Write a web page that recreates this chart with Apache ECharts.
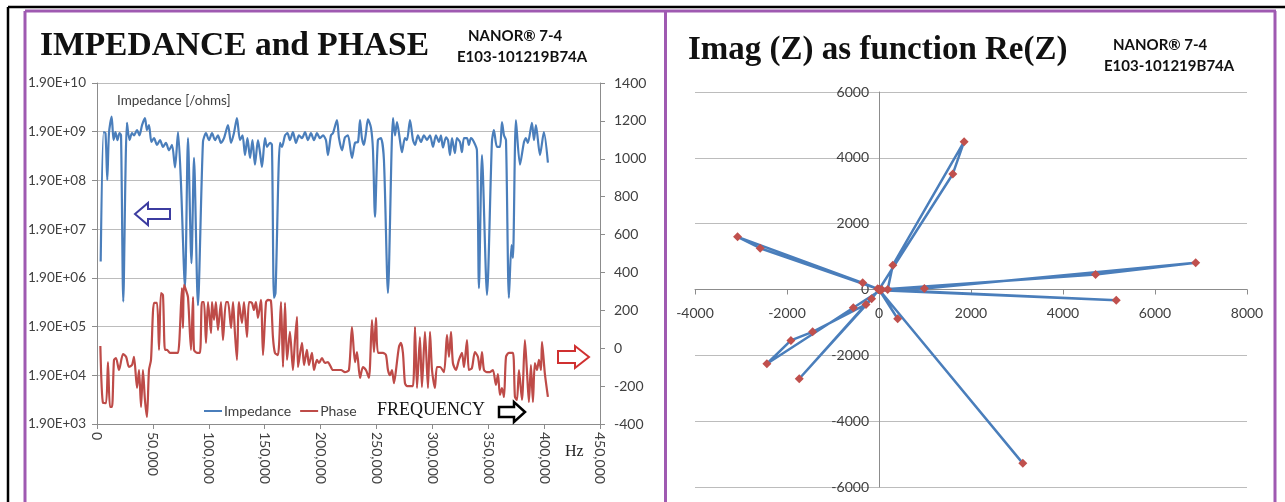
<!DOCTYPE html>
<html>
<head>
<meta charset="utf-8">
<script src="https://cdn.jsdelivr.net/npm/echarts@6/dist/echarts.min.js"></script>
<style>
html,body{margin:0;padding:0;background:#fff;}
#c{width:1285px;height:502px;}
</style>
</head>
<body>
<div id="c"></div>
<script>
// ---------- DATA ----------
const impFreq = [
3300,5900,7600,9200,10700,13100,14800,16500,18300,20100,
21500,23500,26800,29100,31300,33100,35800,38000,40300,42900,
44700,46500,48700,51000,53700,56400,59000,61700,64400,67100,
69800,72500,75100,78700,81400,84500,86800,90300,94800,97500,
100200,102900,105600,108200,110900,113600,117200,119900,122500,125200,
127900,130200,132400,134600,136900,139100,141300,144000,145800,147600,
150300,152100,154800,156500,158300,159700,163700,165500,168200,170400,
172600,175300,178000,180700,183400,186100,188700,191400,194100,196800,
199500,202200,204800,206600,209300,211100,214700,216500,219200,221800,
224500,228100,230800,233500,235300,237000,238800,240600,242400,245100,
246900,248700,251300,254000,256700,260300,264800,266600,268400,271000,
272800,275500,277300,280000,282700,284500,287100,289800,292500,295200,
297900,300600,303200,305900,307700,309500,312200,314000,315800,317600,
320200,322000,324700,326500,328300,331000,332700,334500,337200,339900,
341700,344400,348900,353300,355100,357800,360500,362300,364100,365900,
368500,370800,372100,374800,378400,382000,383700,385500,389100,390900,
392700,396300,399800,403400];
const impedance = [
4.1e6,1.86e9,1.77e9,1.94e8,1.77e9,3.9e9,1.28e9,1.86e9,1.28e9,1.77e9,
1.6e9,6.2e5,2.9e9,1.28e9,1.77e9,1.6e9,2.05e9,1.6e9,2.6e9,3.6e9,
2.05e9,2.6e9,1.17e9,1.4e9,1.02e9,1.28e9,9.3e8,1.12e9,7.9e8,1.02e9,
3.5e8,1.86e9,1.7e8,1.2e6,1.4e9,3.8e6,5.5e8,5.2e5,1.17e9,1.77e9,
1.28e9,1.77e9,1.28e9,1.6e9,1.12e9,1.4e9,2.6e9,1.12e9,1.77e9,3.6e9,
1.28e9,1.6e9,6.3e8,1.4e9,5.5e8,1.28e9,4.0e8,1.28e9,7.2e8,3.6e8,
1.4e9,9.3e8,1.12e9,1.02e9,7.4e5,9.3e5,1.12e9,9.3e8,1.6e9,1.77e9,
1.28e9,1.86e9,1.12e9,1.6e9,1.4e9,1.86e9,1.28e9,1.77e9,1.28e9,1.77e9,
1.4e9,1.6e9,1.28e9,6.3e8,1.6e9,1.77e9,3.3e9,1.4e9,7.9e8,1.45e9,
1.6e9,5.5e8,1.12e9,1.17e9,3.3e9,1.4e9,1.02e9,1.77e9,3.4e9,2.3e9,
7.9e8,3.4e7,1.28e9,1.4e9,5.0e8,9.3e5,3.6e9,1.6e9,3.0e9,1.28e9,
7.2e8,1.4e9,1.28e9,3.3e9,1.28e9,1.02e9,1.6e9,1.17e9,1.6e9,1.28e9,
1.6e9,9.3e8,1.6e9,1.17e9,1.6e9,9.0e8,1.45e9,1.28e9,6.3e8,1.4e9,
6.9e8,1.4e9,1.17e9,7.2e8,1.4e9,1.4e9,1.02e9,1.4e9,1.17e9,7.9e8,
1.17e6,6.3e8,8.5e5,1.17e9,2.05e9,9.3e8,9.3e8,3.0e9,1.6e9,1.28e9,
7.4e5,8.9e6,4.9e6,3.3e9,4.0e8,1.17e9,1.4e9,1.12e9,2.9e9,1.28e9,
2.6e9,6.3e8,1.86e9,4.4e8];

const phaseFreq = [
3000,5400,8100,9800,11600,13400,15200,17000,19700,23300,
26100,28600,31300,33100,35800,37600,39400,41100,42900,44700,
46500,48300,51000,53700,55500,57200,59000,60800,62600,65300,
69800,72500,76000,76900,77800,79600,81400,84100,85900,86800,
89500,92100,93900,95700,97500,99300,102000,102900,104700,106400,
108200,110900,112700,115400,117200,119900,121700,123400,125200,127000,
129700,131500,134200,136000,138600,140400,142200,144000,146700,148500,
151200,153000,155600,157400,159200,161900,164600,166400,168200,170000,
172600,175300,177100,178900,179800,183400,185200,187800,189600,192300,
194100,196800,198600,201300,203900,206600,208400,211100,214700,218300,
221800,225400,228100,230800,232600,235300,237900,240600,243300,246000,
247800,249600,251400,255800,258500,260300,262100,263900,265700,267500,
270100,271900,273700,275500,277300,280000,282700,284500,286300,288900,
290700,293400,296100,297900,299700,302300,304100,306800,310400,313100,
314900,316700,318400,321100,323800,326500,328300,331000,332700,335400,
338100,340800,342600,344400,346200,348900,351500,354200,356900,358700,
360500,362300,364100,365900,368500,372100,373900,375700,377500,380200,
382800,384600,386400,388200,390000,391700,393600,395400,397200,398100,
400700,403400];
const phase = [
12,-289,-290,-73,-310,-310,-62,-52,-115,-31,
-46,-99,-89,-46,-210,-115,-310,-115,-273,-363,
-115,-62,239,239,-9,291,281,-9,-9,-25,
-25,-25,318,107,334,307,270,-9,270,-9,
-25,-25,244,244,28,244,80,244,149,244,
96,244,43,244,244,107,244,80,-62,244,
133,244,59,244,239,202,244,160,255,-36,
244,255,250,59,-25,-36,244,-99,239,-62,
86,-115,43,165,-99,28,-89,-9,-89,-25,
-115,-62,-78,-52,-78,-73,-89,-115,-115,-115,
-126,-115,112,-73,-20,-157,-99,-115,-157,149,
-20,160,-25,-25,-36,-115,-142,-115,-184,-115,
6,28,-25,-184,-200,-200,-200,112,-210,59,
-205,86,-210,86,-115,-210,-99,-99,-126,70,
-46,86,-78,-115,-62,-25,-99,43,-115,-105,
-20,-46,-115,-20,-115,-126,-126,-115,-194,-136,
-247,-210,-257,-46,-25,-25,-257,-273,-115,-273,
43,-115,-284,-89,-284,-78,-115,-62,-115,33,
-136,-257];

// Nyquist: Re(Z), Im(Z) in drawing order
const reZ = [0,189,300,1850,1605,0,-355,-3075,-2583,-30,0,987,6885,4708,60,0,5158,40,-559,-2437,-1915,-1443,-283,0,-1734,-160,0,406,0,3127,0];
const imZ = [0,0,740,4490,3510,0,203,1600,1253,20,0,30,810,455,0,0,-325,-20,-556,-2256,-1548,-1285,-455,0,-2711,-283,0,-890,0,-5281,0];

const impTickExp = [3,4,5,6,7,8,9,10];   // tick labels 1.90E+03 .. 1.90E+10
const legendNames = ['Impedance','Phase'];

// ---------- CHART ----------
const chart = echarts.init(document.getElementById('c'), null, {renderer:'canvas'});
const SANS = 'Lato';
const purple = '#9f5ab1';
const lab = '#404040';
const axisC = '#8c8c8c';
const gridC = '#bcbcbc';
const blue = '#4a7ebb';
const red = '#be4b48';

function commas(v){ return String(v).replace(/\B(?=(\d{3})+(?!\d))/g, ','); }
function plain(v){ return String(v); }

const impData = impFreq.map((f,i)=>[f, Math.log10(impedance[i]/1.9)]);
const phData = phaseFreq.map((f,i)=>[f, phase[i]]);
const nyData = reZ.map((r,i)=>[r, imZ[i]]);

// right grid geometry (used to place the axes on zero)
const G2 = {left:695, right:38, top:92, bottom:15};
const g2w = 1285 - G2.left - G2.right, g2h = 502 - G2.top - G2.bottom;
const xMin2 = -4000, xMax2 = 8000, yMin2 = -6000, yMax2 = 6000;
const xZeroOff = g2w * (0 - xMin2) / (xMax2 - xMin2);
const yZeroOff = g2h * (0 - yMin2) / (yMax2 - yMin2);

function arrow(points, color, lw){
  return {type:'polygon', shape:{points:points}, style:{fill:'#fff', stroke:color, lineWidth:lw}, z:100};
}

const option = {
  animation:false,
  backgroundColor:'#fff',
  textStyle:{fontFamily:SANS},
  grid:[
    {left:97, right:685, top:83, bottom:78},
    G2
  ],
  legend:{
    data:legendNames, left:199, top:399, icon:'rect', itemWidth:18, itemHeight:2, itemGap:9,
    textStyle:{fontFamily:SANS, fontSize:14, color:lab, padding:[0,0,0,-3]}
  },
  xAxis:[
    {type:'value', gridIndex:0, min:0, max:450000, interval:50000,
     axisLine:{show:true, onZero:false, lineStyle:{color:axisC}},
     axisTick:{show:true, length:5, lineStyle:{color:axisC}},
     splitLine:{show:false},
     axisLabel:{rotate:-90, margin:8, color:lab, fontSize:14, fontFamily:SANS, formatter:v=>commas(v)}},
    {type:'value', gridIndex:1, min:xMin2, max:xMax2, interval:2000, position:'bottom',
     offset:-(g2h - yZeroOff),
     axisLine:{show:true, onZero:false, lineStyle:{color:axisC}},
     axisTick:{show:true, length:5, lineStyle:{color:axisC}},
     splitLine:{show:false},
     axisLabel:{margin:17, color:lab, fontSize:14, fontFamily:SANS, formatter:plain}}
  ],
  yAxis:[
    {type:'value', gridIndex:0, min:3, max:10, interval:1, position:'left',
     axisLine:{show:true, onZero:false, lineStyle:{color:axisC}},
     axisTick:{show:true, length:5, lineStyle:{color:axisC}},
     splitLine:{show:true, lineStyle:{color:gridC, width:1}},
     axisLabel:{margin:11, color:lab, fontSize:13.5, fontFamily:SANS,
       formatter:v=>'1.90E+' + (v<10?'0':'') + v}},
    {type:'value', gridIndex:0, min:-400, max:1400, interval:200, position:'right',
     axisLine:{show:true, onZero:false, lineStyle:{color:axisC}},
     axisTick:{show:true, length:5, lineStyle:{color:axisC}},
     splitLine:{show:false},
     axisLabel:{margin:14, color:lab, fontSize:14, fontFamily:SANS, formatter:plain}},
    {type:'value', gridIndex:1, min:yMin2, max:yMax2, interval:2000, position:'left',
     offset:-xZeroOff,
     axisLine:{show:true, onZero:false, lineStyle:{color:axisC}},
     axisTick:{show:false},
     splitLine:{show:true, lineStyle:{color:gridC, width:1}},
     axisLabel:{margin:10, color:lab, fontSize:14, fontFamily:SANS, formatter:plain}}
  ],
  series:[
    {name:'Impedance', type:'line', xAxisIndex:0, yAxisIndex:0, data:impData,
     showSymbol:false, smooth:0.25, lineStyle:{color:blue, width:2.2}, itemStyle:{color:blue}, z:3},
    {name:'Phase', type:'line', xAxisIndex:0, yAxisIndex:1, data:phData,
     showSymbol:false, smooth:0.25, lineStyle:{color:red, width:2.2}, itemStyle:{color:red}, z:4},
    {name:'Im(Z)', type:'line', xAxisIndex:1, yAxisIndex:2, data:nyData,
     symbol:'diamond', symbolSize:9, showAllSymbol:true,
     lineStyle:{color:blue, width:2.5}, itemStyle:{color:'#c0504d'}, z:5}
  ],
  graphic:[
    // outer black frame
    {type:'line', shape:{x1:8, y1:7, x2:1285, y2:7}, style:{stroke:'#000', lineWidth:2.5}},
    {type:'line', shape:{x1:8, y1:7, x2:8, y2:502}, style:{stroke:'#000', lineWidth:2.5}},
    // purple panels
    {type:'line', shape:{x1:25, y1:11, x2:1276, y2:11}, style:{stroke:purple, lineWidth:3}},
    {type:'line', shape:{x1:25, y1:11, x2:25, y2:502}, style:{stroke:purple, lineWidth:3}},
    {type:'line', shape:{x1:665.5, y1:11, x2:665.5, y2:502}, style:{stroke:purple, lineWidth:3}},
    {type:'line', shape:{x1:1275, y1:11, x2:1275, y2:502}, style:{stroke:purple, lineWidth:3}},
    // titles
    {type:'text', left:40, top:29, style:{text:'IMPEDANCE and PHASE', font:'bold 33.5px "Liberation Serif"', fill:'#111'}},
    {type:'text', left:468, top:29, style:{text:'NANOR® 7-4', font:'bold 15px Lato', fill:'#111'}},
    {type:'text', left:457, top:50, style:{text:'E103-101219B74A', font:'bold 15px Lato', fill:'#111'}},
    {type:'text', left:688, top:34, style:{text:'Imag (Z) as function Re(Z)', font:'bold 33px "Liberation Serif"', fill:'#111'}},
    {type:'text', left:1113, top:38, style:{text:'NANOR® 7-4', font:'bold 15px Lato', fill:'#111'}},
    {type:'text', left:1104, top:59, style:{text:'E103-101219B74A', font:'bold 15px Lato', fill:'#111'}},
    // annotations
    {type:'text', left:117, top:94, style:{text:'Impedance [/ohms]', font:'13.5px Lato', fill:lab}},
    {type:'text', left:377, top:401, style:{text:'FREQUENCY', font:'18px "Liberation Serif"', fill:'#111'}},
    {type:'text', left:565, top:444, style:{text:'Hz', font:'16px "Liberation Serif"', fill:'#222'}},
    arrow([[135,214],[148,203],[148,209],[170,209],[170,219],[148,219],[148,225]], '#3c3ca0', 2),
    arrow([[589,357],[575,346],[575,351],[558,351],[558,363],[575,363],[575,368]], '#d03030', 2),
    arrow([[525,412],[514,402],[514,407],[499,407],[499,417],[514,417],[514,422]], '#000', 2.5)
  ]
};
chart.setOption(option);
</script>
</body>
</html>
